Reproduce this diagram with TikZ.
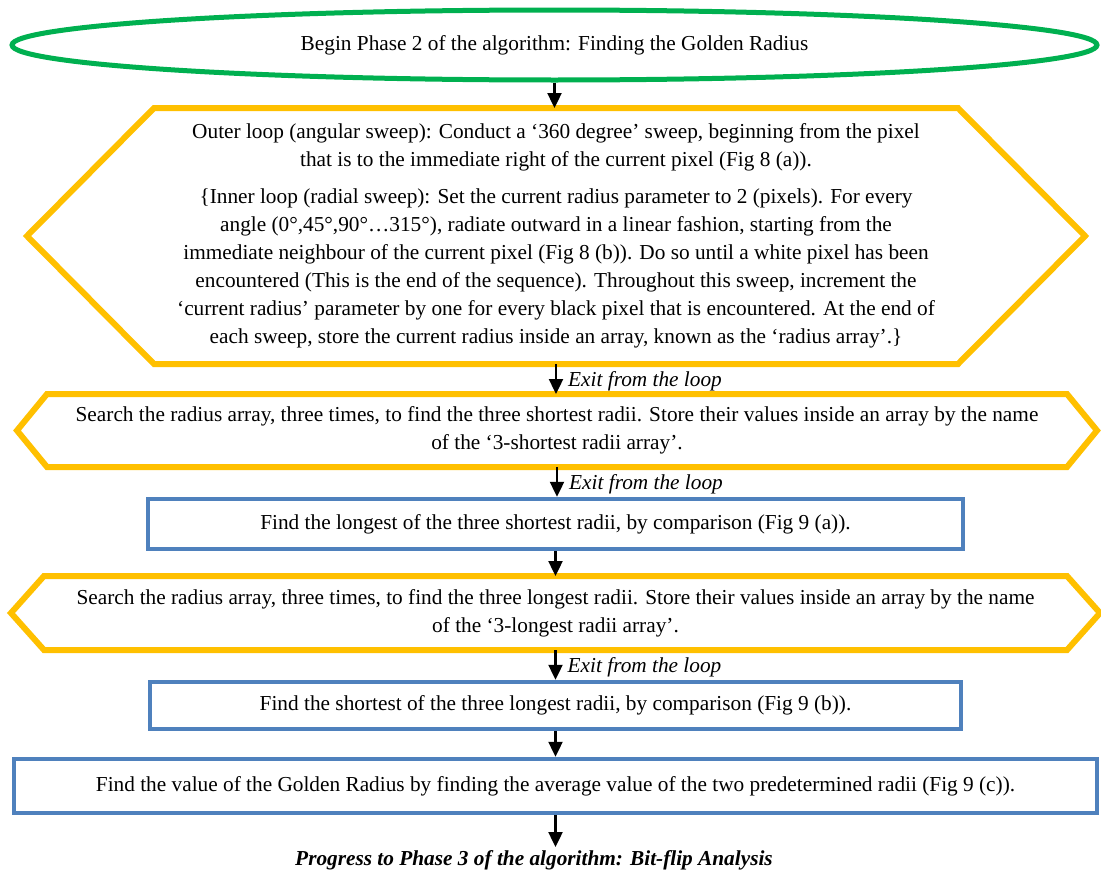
\documentclass[tikz,border=0pt]{standalone}
\usepackage{fontspec}
\setmainfont{Liberation Serif}
\usetikzlibrary{shapes.geometric,arrows.meta}
\definecolor{startgreen}{HTML}{00B050}
\definecolor{loopgold}{HTML}{FFC000}
\definecolor{stepblue}{HTML}{4F81BD}

\begin{document}
\begin{tikzpicture}[x=1pt,y=-1pt,
    every node/.style={font=\fontsize{21.3}{28}\selectfont, inner sep=0pt},
    flow/.style={-{Triangle[width=14pt,length=15pt]}, line width=2.4pt},
    hexbox/.style={minimum width=#1, align=center, outer sep=3pt},
    loopline/.style={draw=loopgold, line width=6pt},
    stepbox/.style={draw=stepblue, line width=4.5pt, minimum width=#1, align=center},
    exitlbl/.style={right, xshift=11pt, yshift=-2pt, font=\fontsize{21.3}{28}\selectfont\itshape}]
    \useasboundingbox (0,0) rectangle (1101,870);
    \node[ellipse, draw=startgreen, line width=5pt, minimum width=1085pt, minimum height=70pt] (start) at (554.5,45)
      {Begin Phase 2 of the algorithm: Finding the Golden Radius};
    \node[hexbox=798pt, minimum height=250pt] (outer) at (556,236)
      {Outer loop (angular sweep): Conduct a ‘360 degree’ sweep, beginning from the pixel\\
       that is to the immediate right of the current pixel (Fig 8 (a)).\\[9pt]
       \{Inner loop (radial sweep): Set the current radius parameter to 2 (pixels). For every\\
       angle (0°,45°,90°…315°), radiate outward in a linear fashion, starting from the\\
       immediate neighbour of the current pixel (Fig 8 (b)). Do so until a white pixel has been\\
       encountered (This is the end of the sequence). Throughout this sweep, increment the\\
       ‘current radius’ parameter by one for every black pixel that is encountered. At the end of\\
       each sweep, store the current radius inside an array, known as the ‘radius array’.\}};
    \draw[loopline] (outer.north west) -- (outer.north east) -- ([xshift=127pt]outer.east)
      -- (outer.south east) -- (outer.south west) -- ([xshift=-127pt]outer.west) -- cycle;
    \node[hexbox=1014pt, minimum height=67pt] (shortsearch) at (557,430.5)
      {Search the radius array, three times, to find the three shortest radii. Store their values inside an array by the name\\
       of the ‘3-shortest radii array’.};
    \draw[loopline] (shortsearch.north west) -- (shortsearch.north east) -- ([xshift=30pt]shortsearch.east)
      -- (shortsearch.south east) -- (shortsearch.south west) -- ([xshift=-30pt]shortsearch.west) -- cycle;
    \node[stepbox=815pt, minimum height=50pt] (longshort) at (555.5,524)
      {Find the longest of the three shortest radii, by comparison (Fig 9 (a)).};
    \node[hexbox=1017pt, minimum height=68pt] (longsearch) at (555.5,613)
      {Search the radius array, three times, to find the three longest radii. Store their values inside an array by the name\\
       of the ‘3-longest radii array’.};
    \draw[loopline] (longsearch.north west) -- (longsearch.north east) -- ([xshift=33pt]longsearch.east)
      -- (longsearch.south east) -- (longsearch.south west) -- ([xshift=-33pt]longsearch.west) -- cycle;
    \node[stepbox=811pt, minimum height=47pt] (shortlong) at (555.5,705.5)
      {Find the shortest of the three longest radii, by comparison (Fig 9 (b)).};
    \node[stepbox=1083pt, minimum height=54pt] (golden) at (555.5,786)
      {Find the value of the Golden Radius by finding the average value of the two predetermined radii (Fig 9 (c)).};
    \node[font=\fontsize{21.3}{28}\selectfont\bfseries\itshape, inner sep=3pt] (phase3) at (534,860)
      {Progress to Phase 3 of the algorithm: Bit-flip Analysis};

    \draw[flow] (start.south) -- (start.south |- outer.north);
    \draw[flow] (outer.south) -- node[exitlbl] {Exit from the loop} (outer.south |- shortsearch.north);
    \draw[flow] (shortsearch.south) -- node[exitlbl] {Exit from the loop} (shortsearch.south |- longshort.north);
    \draw[flow] (longshort.south) -- (longshort.south |- longsearch.north);
    \draw[flow] (longsearch.south) -- node[exitlbl] {Exit from the loop} (longsearch.south |- shortlong.north);
    \draw[flow] (shortlong.south) -- (shortlong.south |- golden.north);
    \draw[flow] (golden.south) -- (golden.south |- phase3.north);
  \end{tikzpicture}
\end{document}
